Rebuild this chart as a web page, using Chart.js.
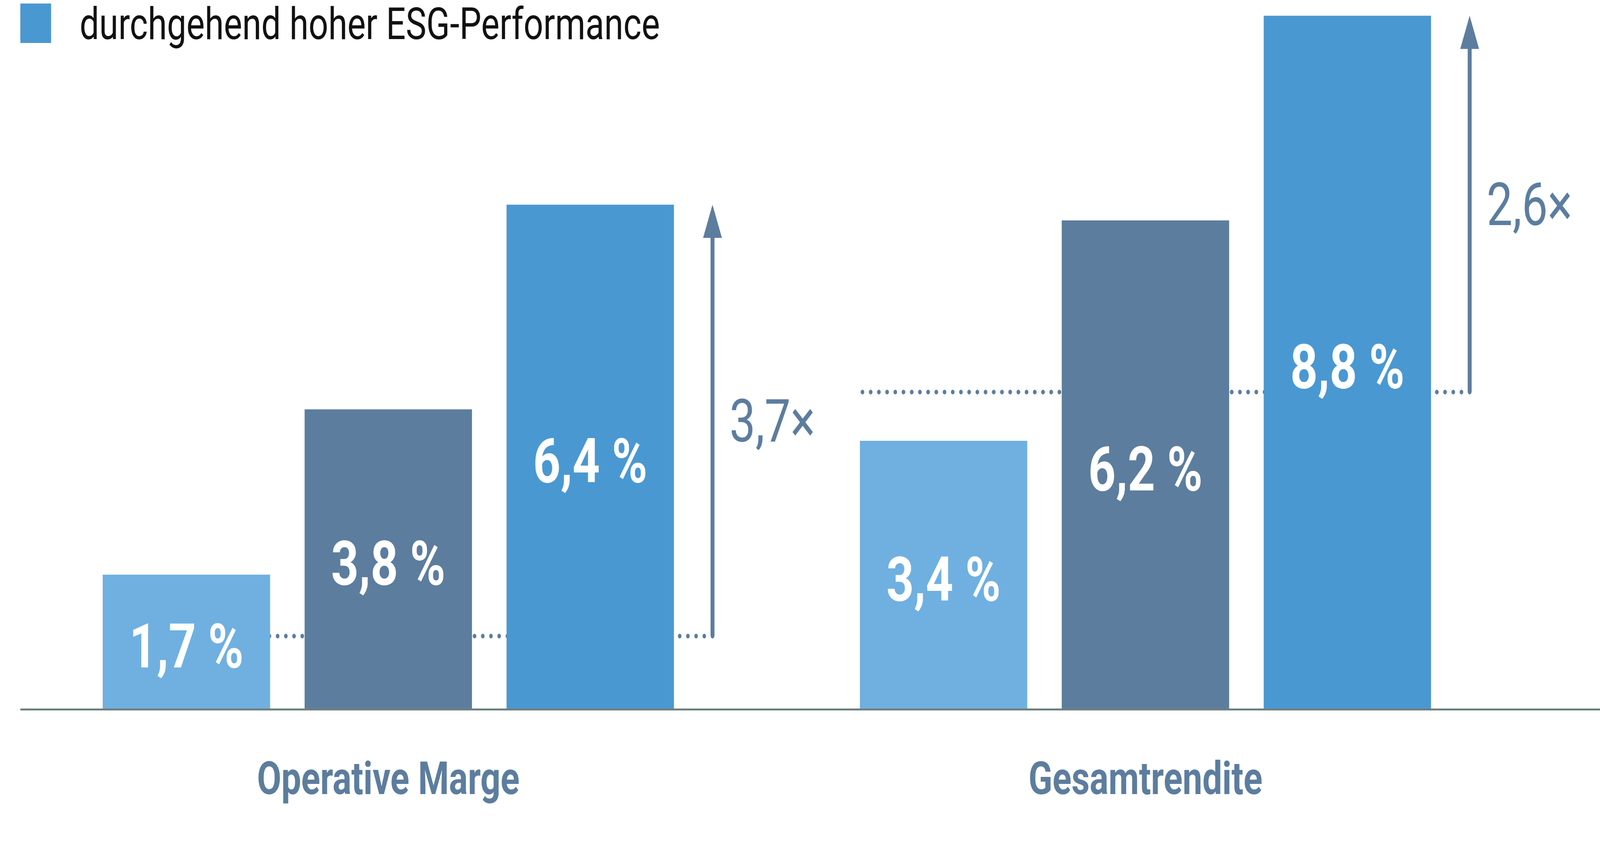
<!DOCTYPE html>
<html lang="de">
<head>
<meta charset="utf-8">
<title>ESG-Performance</title>
<script src="https://cdn.jsdelivr.net/npm/chart.js@4.4.1/dist/chart.umd.min.js"></script>
<style>
  html, body { margin: 0; padding: 0; background: #fff; overflow: hidden; }
  #outer { position: relative; overflow: hidden; }
  #wrap { position: absolute; left: 0; top: 0; width: 5265px; height: 2193px; transform-origin: 0 0; }
</style>
</head>
<body>
<div id="outer"><div id="wrap"><canvas id="esgChart"></canvas></div></div>
<script>
// Kategorien und Werte (in %)
const kategorien = ["Operative Marge", "Gesamtrendite"];
const serienNamen = [
  "niedrige ESG-Performance",
  "verbesserte ESG-Performance",
  "durchgehend hoher ESG-Performance",
];
const werteNiedrig = [1.7, 3.4];
const werteMittel = [3.8, 6.2];
const werteHoch = [6.4, 8.8];
// Pfeile: Startniveau der gepunkteten Linie + Faktor-Beschriftung
const pfeilStart = [0.92, 4.02];
const faktoren = ["3,7×", "2,6×"];

const FARBEN = ["#6fb0e0", "#5c7d9e", "#4a98d1"];
const TEXT_BLAU = "#5c7d9e";
const ACHSE = "#6f7f7f";
const SCHRIFT = "Roboto, 'Open Sans', sans-serif";

// Zeichnung ist fuer 5265 x 2193 ausgelegt -> aufs Fenster skalieren
const BREITE = 5265, HOEHE = 2193;
const sx = window.innerWidth / BREITE;
const sy = window.innerHeight / HOEHE;
const outer = document.getElementById("outer");
outer.style.width = window.innerWidth + "px";
outer.style.height = window.innerHeight + "px";
document.getElementById("wrap").style.transform = `scale(${sx}, ${sy})`;

function formatProzent(v) {
  return v.toLocaleString("de-DE", { minimumFractionDigits: 1 }) + " %";
}

// gepunktete Linien, Pfeile, Werte, Achse, Legende
const deko = {
  id: "deko",
  beforeDatasetsDraw(chart) {
    const ctx = chart.ctx;
    const y = chart.scales.y;
    const ersteBars = chart.getDatasetMeta(0).data;
    const letzteBars = chart.getDatasetMeta(2).data;
    ctx.save();
    ctx.strokeStyle = TEXT_BLAU;
    ctx.lineWidth = 12;
    ctx.lineCap = "round";
    ctx.setLineDash([0, 27]);
    pfeilStart.forEach((v, i) => {
      const links = ersteBars[i].x - ersteBars[i].width / 2;
      const px = letzteBars[i].x + letzteBars[i].width / 2 + 127;
      const py = y.getPixelForValue(v);
      ctx.beginPath();
      ctx.moveTo(px, py);
      ctx.lineTo(links, py);
      ctx.stroke();
    });
    ctx.restore();
  },
  afterDatasetsDraw(chart) {
    const ctx = chart.ctx;
    const y = chart.scales.y;
    const letzteBars = chart.getDatasetMeta(2).data;
    ctx.save();

    // Werte in den Balken
    ctx.fillStyle = "#fff";
    ctx.font = "bold 158px " + SCHRIFT;
    ctx.textAlign = "center";
    ctx.textBaseline = "alphabetic";
    chart.data.datasets.forEach((ds, di) => {
      chart.getDatasetMeta(di).data.forEach((bar, i) => {
        const mitte = (bar.y + bar.base) / 2 + 10;
        ctx.fillText(formatProzent(ds.data[i]), bar.x, mitte + 158 * 0.355);
      });
    });

    // Pfeile + Faktor
    ctx.fillStyle = TEXT_BLAU;
    pfeilStart.forEach((v, i) => {
      const bar = letzteBars[i];
      const px = bar.x + bar.width / 2 + 127;
      const basis = y.getPixelForValue(v);
      const spitze = y.getPixelForValue(werteHoch[i]);
      ctx.fillRect(px - 6.5, spitze + 80, 13, basis - spitze - 80);
      ctx.beginPath();
      ctx.moveTo(px, spitze);
      ctx.lineTo(px - 31, spitze + 85);
      ctx.lineTo(px + 31, spitze + 85);
      ctx.closePath();
      ctx.fill();

      ctx.font = "400 152px " + SCHRIFT;
      ctx.textAlign = "left";
      const mitte = (basis + spitze) / 2;
      ctx.fillText(faktoren[i], px + 56, mitte + 152 * 0.355);
    });

    // Grundlinie
    const null_y = y.getPixelForValue(0);
    ctx.fillStyle = ACHSE;
    ctx.fillRect(67, null_y, chart.width - 67, 5);
    ctx.restore();
  },
  afterDraw(chart) {
    // Legende (nur die dritte Reihe ist im Ausschnitt sichtbar)
    const ctx = chart.ctx;
    ctx.save();
    ctx.fillStyle = FARBEN[2];
    ctx.fillRect(67, 9, 101, 101);
    ctx.fillStyle = "#111";
    ctx.font = "400 114px " + SCHRIFT;
    ctx.textAlign = "left";
    ctx.textBaseline = "alphabetic";
    ctx.fillText(chart.data.datasets[2].label, 262, 100);
    ctx.restore();
  },
};

const chart = new Chart(document.getElementById("esgChart"), {
  type: "bar",
  data: {
    labels: kategorien,
    datasets: [
      { label: serienNamen[0], data: werteNiedrig, backgroundColor: FARBEN[0] },
      { label: serienNamen[1], data: werteMittel, backgroundColor: FARBEN[1] },
      { label: serienNamen[2], data: werteHoch, backgroundColor: FARBEN[2] },
    ],
  },
  options: {
    responsive: true,
    maintainAspectRatio: false,
    devicePixelRatio: window.devicePixelRatio * Math.max(sx, sy),
    animation: false,
    datasets: {
      bar: { categoryPercentage: 0.8, barPercentage: 0.829 },
    },
    layout: { padding: { left: 32, right: 250, top: 0, bottom: 0 } },
    plugins: {
      legend: { display: false },
      tooltip: { enabled: false },
    },
    scales: {
      x: {
        grid: { display: false, drawTicks: false },
        border: { display: false },
        ticks: {
          color: TEXT_BLAU,
          padding: 132,
          font: { family: SCHRIFT, weight: "bold", size: 116, lineHeight: 1 },
        },
      },
      y: { display: false, min: 0, max: 9 },
    },
  },
  plugins: [deko],
});
</script>
</body>
</html>
